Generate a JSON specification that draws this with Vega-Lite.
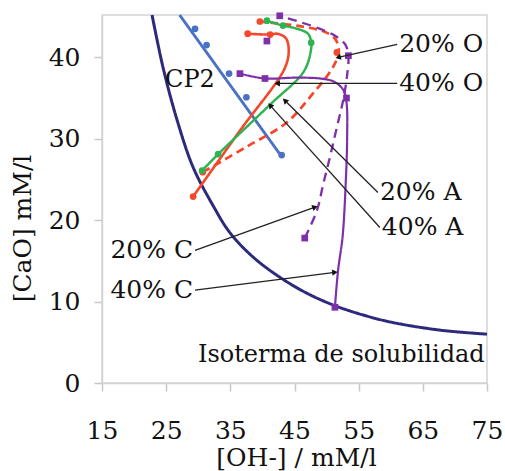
{
  "$schema": "https://vega.github.io/schema/vega-lite/v6.json",
  "width": 385,
  "height": 368,
  "autosize": "none",
  "padding": {"left": 102, "top": 15, "right": 18, "bottom": 88},
  "background": "white",
  "config": {
    "view": {"stroke": "#d4d4d4", "strokeWidth": 1.5},
    "font": "DejaVu Serif",
    "axis": {
      "grid": false,
      "domainColor": "#d4d4d4",
      "domainWidth": 1.5,
      "tickColor": "#c8c8c8",
      "tickWidth": 1.5,
      "tickSize": 8,
      "labelFont": "DejaVu Serif",
      "labelFontSize": 25,
      "labelColor": "#111111",
      "labelFlush": false,
      "titleFont": "DejaVu Serif",
      "titleFontSize": 25,
      "titleFontWeight": "normal",
      "titleColor": "#111111"
    }
  },
  "datasets": {
    "curves": [
      {"series": "Isoterma", "i": 1, "x": 22.8, "y": 45.2},
      {"series": "Isoterma", "i": 2, "x": 24.5, "y": 38.8},
      {"series": "Isoterma", "i": 3, "x": 26.7, "y": 32.3},
      {"series": "Isoterma", "i": 4, "x": 29.2, "y": 26.5},
      {"series": "Isoterma", "i": 5, "x": 32.3, "y": 21.8},
      {"series": "Isoterma", "i": 6, "x": 34.9, "y": 18.5},
      {"series": "Isoterma", "i": 7, "x": 38.5, "y": 15.5},
      {"series": "Isoterma", "i": 8, "x": 42.7, "y": 13.0},
      {"series": "Isoterma", "i": 9, "x": 47.0, "y": 11.0},
      {"series": "Isoterma", "i": 10, "x": 51.3, "y": 9.5},
      {"series": "Isoterma", "i": 11, "x": 55.5, "y": 8.4},
      {"series": "Isoterma", "i": 12, "x": 59.9, "y": 7.5},
      {"series": "Isoterma", "i": 13, "x": 67.6, "y": 6.5},
      {"series": "Isoterma", "i": 14, "x": 75.0, "y": 6.0},
      {"series": "CP2", "i": 1, "x": 27.1, "y": 45.2},
      {"series": "CP2", "i": 2, "x": 43.0, "y": 27.8},
      {"series": "O 40%", "i": 1, "x": 29.2, "y": 22.9},
      {"series": "O 40%", "i": 2, "x": 36.5, "y": 31.0},
      {"series": "O 40%", "i": 3, "x": 43.5, "y": 38.7},
      {"series": "O 40%", "i": 4, "x": 44.1, "y": 41.0},
      {"series": "O 40%", "i": 5, "x": 43.6, "y": 42.4},
      {"series": "O 40%", "i": 6, "x": 42.3, "y": 42.9},
      {"series": "O 40%", "i": 7, "x": 41.2, "y": 42.8},
      {"series": "O 40%", "i": 8, "x": 37.7, "y": 42.9},
      {"series": "O 20%", "i": 1, "x": 30.7, "y": 25.9},
      {"series": "O 20%", "i": 2, "x": 37.5, "y": 29.0},
      {"series": "O 20%", "i": 3, "x": 43.8, "y": 32.0},
      {"series": "O 20%", "i": 4, "x": 47.5, "y": 35.2},
      {"series": "O 20%", "i": 5, "x": 51.0, "y": 38.8},
      {"series": "O 20%", "i": 6, "x": 51.9, "y": 40.8},
      {"series": "O 20%", "i": 7, "x": 51.3, "y": 42.3},
      {"series": "O 20%", "i": 8, "x": 49.5, "y": 43.2},
      {"series": "O 20%", "i": 9, "x": 46.0, "y": 43.8},
      {"series": "O 20%", "i": 10, "x": 42.0, "y": 44.2},
      {"series": "O 20%", "i": 11, "x": 39.6, "y": 44.4},
      {"series": "A", "i": 1, "x": 30.6, "y": 26.1},
      {"series": "A", "i": 2, "x": 33.1, "y": 28.1},
      {"series": "A", "i": 3, "x": 41.2, "y": 34.2},
      {"series": "A", "i": 4, "x": 46.4, "y": 38.2},
      {"series": "A", "i": 5, "x": 47.5, "y": 40.6},
      {"series": "A", "i": 6, "x": 47.6, "y": 41.8},
      {"series": "A", "i": 7, "x": 47.1, "y": 42.9},
      {"series": "A", "i": 8, "x": 45.0, "y": 43.6},
      {"series": "A", "i": 9, "x": 43.2, "y": 43.9},
      {"series": "A", "i": 10, "x": 40.7, "y": 44.5},
      {"series": "C 40%", "i": 1, "x": 36.5, "y": 38.0},
      {"series": "C 40%", "i": 2, "x": 40.4, "y": 37.4},
      {"series": "C 40%", "i": 3, "x": 45.0, "y": 37.5},
      {"series": "C 40%", "i": 4, "x": 49.0, "y": 37.4},
      {"series": "C 40%", "i": 5, "x": 51.2, "y": 37.0},
      {"series": "C 40%", "i": 6, "x": 52.6, "y": 36.0},
      {"series": "C 40%", "i": 7, "x": 53.1, "y": 34.5},
      {"series": "C 40%", "i": 8, "x": 53.2, "y": 30.0},
      {"series": "C 40%", "i": 9, "x": 53.0, "y": 24.9},
      {"series": "C 40%", "i": 10, "x": 52.5, "y": 18.0},
      {"series": "C 40%", "i": 11, "x": 51.8, "y": 13.9},
      {"series": "C 40%", "i": 12, "x": 51.3, "y": 9.3},
      {"series": "C 20%", "i": 1, "x": 46.6, "y": 17.8},
      {"series": "C 20%", "i": 2, "x": 48.5, "y": 21.2},
      {"series": "C 20%", "i": 3, "x": 49.5, "y": 24.5},
      {"series": "C 20%", "i": 4, "x": 50.6, "y": 28.0},
      {"series": "C 20%", "i": 5, "x": 51.6, "y": 31.4},
      {"series": "C 20%", "i": 6, "x": 52.6, "y": 34.8},
      {"series": "C 20%", "i": 7, "x": 53.2, "y": 37.8},
      {"series": "C 20%", "i": 8, "x": 53.4, "y": 40.2},
      {"series": "C 20%", "i": 9, "x": 52.9, "y": 41.6},
      {"series": "C 20%", "i": 10, "x": 51.2, "y": 42.7},
      {"series": "C 20%", "i": 11, "x": 49.0, "y": 43.5},
      {"series": "C 20%", "i": 12, "x": 46.0, "y": 44.3},
      {"series": "C 20%", "i": 13, "x": 42.7, "y": 45.1}
    ],
    "markers": [
      {"series": "CP2", "x": 29.5, "y": 43.5},
      {"series": "CP2", "x": 31.3, "y": 41.5},
      {"series": "CP2", "x": 34.8, "y": 38.0},
      {"series": "CP2", "x": 37.5, "y": 35.1},
      {"series": "CP2", "x": 43.0, "y": 28.0},
      {"series": "O 40%", "x": 29.2, "y": 22.9},
      {"series": "O 40%", "x": 41.2, "y": 42.8},
      {"series": "O 40%", "x": 37.7, "y": 42.9},
      {"series": "O 20%", "x": 30.7, "y": 25.9},
      {"series": "O 20%", "x": 51.6, "y": 40.6},
      {"series": "O 20%", "x": 39.6, "y": 44.4},
      {"series": "A", "x": 30.6, "y": 26.1},
      {"series": "A", "x": 33.1, "y": 28.1},
      {"series": "A", "x": 47.6, "y": 41.8},
      {"series": "A", "x": 40.7, "y": 44.5},
      {"series": "A", "x": 43.2, "y": 43.9},
      {"series": "C 40%", "x": 36.5, "y": 38.0},
      {"series": "C 40%", "x": 40.4, "y": 37.4},
      {"series": "C 40%", "x": 53.1, "y": 35.0},
      {"series": "C 40%", "x": 51.3, "y": 9.3},
      {"series": "C 20%", "x": 46.6, "y": 17.8},
      {"series": "C 20%", "x": 53.4, "y": 40.2},
      {"series": "C 20%", "x": 42.7, "y": 45.1},
      {"series": "C 20%", "x": 40.7, "y": 42.0}
    ],
    "notes": [
      {"label": "20% O", "x1": 61.0, "y1": 41.6, "x2": 51.8, "y2": 40.0},
      {"label": "40% O", "x1": 61.0, "y1": 36.8, "x2": 42.3, "y2": 36.8},
      {"label": "20% A", "x1": 58.0, "y1": 23.4, "x2": 43.5, "y2": 34.7},
      {"label": "40% A", "x1": 58.3, "y1": 19.1, "x2": 41.2, "y2": 34.1},
      {"label": "20% C", "x1": 29.5, "y1": 16.3, "x2": 48.2, "y2": 21.6},
      {"label": "40% C", "x1": 29.5, "y1": 11.4, "x2": 51.3, "y2": 13.6}
    ],
    "labels": [
      {"text": "CP2", "x": 28.7, "y": 37.2},
      {"text": "Isoterma de solubilidad", "x": 52.3, "y": 3.4}
    ]
  },
  "layer": [
    {
      "data": {"name": "curves"},
      "mark": {"type": "line", "interpolate": "catmull-rom"},
      "encoding": {
        "x": {
          "field": "x", "type": "quantitative",
          "scale": {"domain": [15, 75], "nice": false, "zero": false},
          "axis": {
            "values": [15, 25, 35, 45, 55, 65, 75],
            "title": "[OH-] / mM/l",
            "labelBaseline": "middle",
            "labelPadding": 39,
            "titleBaseline": "middle",
            "titleX": 194,
            "titleY": 74
          }
        },
        "y": {
          "field": "y", "type": "quantitative",
          "scale": {"domain": [0, 45.2], "nice": false},
          "axis": {
            "values": [0, 10, 20, 30, 40],
            "title": "[CaO] mM/l",
            "labelPadding": 14,
            "titleAngle": -90,
            "titleAlign": "center",
            "titleBaseline": "middle",
            "titleX": -80,
            "titleY": 213
          }
        },
        "order": {"field": "i", "type": "quantitative"},
        "color": {
          "field": "series", "type": "nominal", "legend": null,
          "scale": {
            "domain": ["Isoterma", "CP2", "O 20%", "O 40%", "A", "C 20%", "C 40%"],
            "range": ["#2d2a7c", "#4a72c4", "#f5472c", "#f5472c", "#2fb352", "#7d30a8", "#7d30a8"]
          }
        },
        "strokeDash": {
          "field": "series", "type": "nominal", "legend": null,
          "scale": {
            "domain": ["Isoterma", "CP2", "O 20%", "O 40%", "A", "C 20%", "C 40%"],
            "range": [[1, 0], [1, 0], [8, 5], [1, 0], [1, 0], [9, 6], [1, 0]]
          }
        },
        "strokeWidth": {
          "field": "series", "type": "nominal", "legend": null,
          "scale": {
            "domain": ["Isoterma", "CP2", "O 20%", "O 40%", "A", "C 20%", "C 40%"],
            "range": [3, 2.2, 2.2, 2.2, 2.6, 2.4, 2.2]
          }
        }
      }
    },
    {
      "data": {"name": "markers"},
      "mark": {"type": "point", "filled": true, "opacity": 1, "size": 45},
      "encoding": {
        "x": {"field": "x", "type": "quantitative"},
        "y": {"field": "y", "type": "quantitative"},
        "color": {"field": "series", "type": "nominal", "legend": null},
        "shape": {
          "field": "series", "type": "nominal", "legend": null,
          "scale": {
            "domain": ["CP2", "O 20%", "O 40%", "A", "C 20%", "C 40%"],
            "range": ["circle", "circle", "circle", "circle", "square", "square"]
          }
        }
      }
    },
    {
      "data": {"name": "notes"},
      "mark": {"type": "rule", "color": "#222222", "strokeWidth": 1.3},
      "encoding": {
        "x": {"field": "x1", "type": "quantitative"},
        "y": {"field": "y1", "type": "quantitative"},
        "x2": {"field": "x2"},
        "y2": {"field": "y2"}
      }
    },
    {
      "data": {"name": "notes"},
      "transform": [{"filter": "datum.label == '20% O'"}],
      "mark": {"type": "point", "shape": "triangle-right", "filled": true, "color": "#111111", "opacity": 1, "size": 40, "angle": 167},
      "encoding": {"x": {"field": "x2", "type": "quantitative"}, "y": {"field": "y2", "type": "quantitative"}}
    },
    {
      "data": {"name": "notes"},
      "transform": [{"filter": "datum.label == '40% O'"}],
      "mark": {"type": "point", "shape": "triangle-right", "filled": true, "color": "#111111", "opacity": 1, "size": 40, "angle": 180},
      "encoding": {"x": {"field": "x2", "type": "quantitative"}, "y": {"field": "y2", "type": "quantitative"}}
    },
    {
      "data": {"name": "notes"},
      "transform": [{"filter": "datum.label == '20% A'"}],
      "mark": {"type": "point", "shape": "triangle-right", "filled": true, "color": "#111111", "opacity": 1, "size": 40, "angle": 225},
      "encoding": {"x": {"field": "x2", "type": "quantitative"}, "y": {"field": "y2", "type": "quantitative"}}
    },
    {
      "data": {"name": "notes"},
      "transform": [{"filter": "datum.label == '40% A'"}],
      "mark": {"type": "point", "shape": "triangle-right", "filled": true, "color": "#111111", "opacity": 1, "size": 40, "angle": 228},
      "encoding": {"x": {"field": "x2", "type": "quantitative"}, "y": {"field": "y2", "type": "quantitative"}}
    },
    {
      "data": {"name": "notes"},
      "transform": [{"filter": "datum.label == '20% C'"}],
      "mark": {"type": "point", "shape": "triangle-right", "filled": true, "color": "#111111", "opacity": 1, "size": 40, "angle": 340},
      "encoding": {"x": {"field": "x2", "type": "quantitative"}, "y": {"field": "y2", "type": "quantitative"}}
    },
    {
      "data": {"name": "notes"},
      "transform": [{"filter": "datum.label == '40% C'"}],
      "mark": {"type": "point", "shape": "triangle-right", "filled": true, "color": "#111111", "opacity": 1, "size": 40, "angle": 353},
      "encoding": {"x": {"field": "x2", "type": "quantitative"}, "y": {"field": "y2", "type": "quantitative"}}
    },
    {
      "data": {"name": "notes"},
      "transform": [{"filter": "indexof(datum.label, 'C') < 0"}],
      "mark": {"type": "text", "align": "left", "baseline": "middle", "dx": 2, "font": "DejaVu Serif", "fontSize": 25, "color": "#111111"},
      "encoding": {
        "x": {"field": "x1", "type": "quantitative"},
        "y": {"field": "y1", "type": "quantitative"},
        "text": {"field": "label"}
      }
    },
    {
      "data": {"name": "notes"},
      "transform": [{"filter": "indexof(datum.label, 'C') >= 0"}],
      "mark": {"type": "text", "align": "right", "baseline": "middle", "dx": -2, "font": "DejaVu Serif", "fontSize": 25, "color": "#111111"},
      "encoding": {
        "x": {"field": "x1", "type": "quantitative"},
        "y": {"field": "y1", "type": "quantitative"},
        "text": {"field": "label"}
      }
    },
    {
      "data": {"name": "labels"},
      "mark": {"type": "text", "align": "center", "baseline": "middle", "font": "DejaVu Serif", "fontSize": 24, "color": "#111111"},
      "encoding": {
        "x": {"field": "x", "type": "quantitative"},
        "y": {"field": "y", "type": "quantitative"},
        "text": {"field": "text"}
      }
    }
  ]
}
